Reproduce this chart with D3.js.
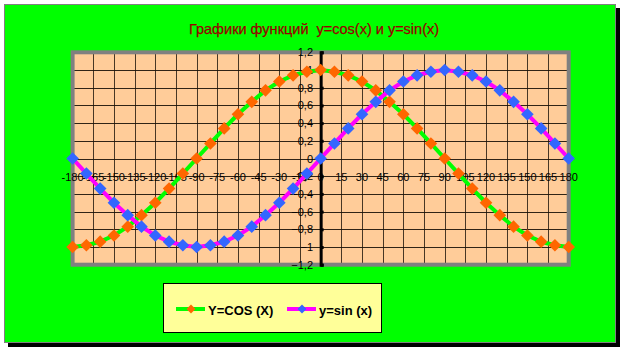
<!DOCTYPE html>
<html>
<head>
<meta charset="utf-8">
<script src="https://cdn.jsdelivr.net/npm/d3@7"></script>
<style>
  body { margin: 0; background: #fff; }
  svg { display: block; font-family: "Liberation Sans", Arial, sans-serif; }
</style>
</head>
<body>
<div id="chart"></div>
<script>
// data (10 degree steps)
var xDeg = [-180, -170, -160, -150, -140, -130, -120, -110, -100, -90, -80, -70, -60, -50, -40, -30, -20, -10,
            0, 10, 20, 30, 40, 50, 60, 70, 80, 90, 100, 110, 120, 130, 140, 150, 160, 170, 180];
var cosVals = [-1, -0.98, -0.94, -0.87, -0.77, -0.64, -0.5, -0.34, -0.17, 0, 0.17, 0.34, 0.5, 0.64, 0.77, 0.87, 0.94, 0.98,
               1, 0.98, 0.94, 0.87, 0.77, 0.64, 0.5, 0.34, 0.17, 0, -0.17, -0.34, -0.5, -0.64, -0.77, -0.87, -0.94, -0.98, -1];
var sinVals = [0, -0.17, -0.34, -0.5, -0.64, -0.77, -0.87, -0.94, -0.98, -1, -0.98, -0.94, -0.87, -0.77, -0.64, -0.5, -0.34, -0.17,
               0, 0.17, 0.34, 0.5, 0.64, 0.77, 0.87, 0.94, 0.98, 1, 0.98, 0.94, 0.87, 0.77, 0.64, 0.5, 0.34, 0.17, 0];
var xTicks = [-180, -165, -150, -135, -120, -105, -90, -75, -60, -45, -30, -15, 0, 15, 30, 45, 60, 75, 90, 105, 120, 135, 150, 165, 180];
var yTicks = [-1.2, -1, -0.8, -0.6, -0.4, -0.2, 0, 0.2, 0.4, 0.6, 0.8, 1, 1.2];
var seriesNames = ["Y=COS (X)", "y=sin (x)"];
var titleText = "Графики функций  y=cos(x) и y=sin(x)";

var W = 622, H = 352;
var plot = {left: 72.6, right: 568.7, top: 52.3, bottom: 264.7};

var svg = d3.select("#chart").append("svg")
    .attr("width", W)
    .attr("height", H);

// chart area with shadow
svg.append("rect")
    .attr("x", 8).attr("y", 8).attr("width", 612).attr("height", 339)
    .attr("fill", "#000");
svg.append("rect")
    .attr("x", 4.5).attr("y", 4.5).attr("width", 611).attr("height", 338)
    .attr("fill", "#00ff00")
    .attr("stroke", "#808080")
    .attr("stroke-width", 1);

// title
svg.append("text")
    .attr("x", 314).attr("y", 34)
    .attr("text-anchor", "middle")
    .attr("font-size", "14.5px")
    .attr("fill", "#990000")
    .attr("stroke", "#990000")
    .attr("stroke-width", 0.25)
    .style("white-space", "pre")
    .text(titleText);

var x = d3.scaleLinear().domain([-180, 180]).range([plot.left, plot.right]);
var y = d3.scaleLinear().domain([-1.2, 1.2]).range([plot.bottom, plot.top]);

// plot area
svg.append("rect")
    .attr("x", plot.left).attr("y", plot.top)
    .attr("width", plot.right - plot.left).attr("height", plot.bottom - plot.top)
    .attr("fill", "#ffcc99");

// gridlines
var grid = svg.append("g").attr("stroke", "#1a1208").attr("stroke-width", 1);
grid.selectAll("line.v")
    .data(xTicks)
    .enter().append("line")
    .attr("class", "v")
    .attr("x1", function(d) { return Math.round(x(d)) + 0.5; })
    .attr("x2", function(d) { return Math.round(x(d)) + 0.5; })
    .attr("y1", plot.top).attr("y2", plot.bottom)
    .attr("stroke-opacity", 0.8);
grid.selectAll("line.h")
    .data(yTicks)
    .enter().append("line")
    .attr("class", "h")
    .attr("x1", plot.left).attr("x2", plot.right)
    .attr("y1", function(d) { return Math.round(y(d)) + 0.5; })
    .attr("y2", function(d) { return Math.round(y(d)) + 0.5; })
    .attr("stroke-opacity", 0.9);

// plot border
svg.append("rect")
    .attr("x", plot.left).attr("y", plot.top)
    .attr("width", plot.right - plot.left).attr("height", plot.bottom - plot.top)
    .attr("fill", "none")
    .attr("stroke", "#808080")
    .attr("stroke-width", 4);

// y axis at x = 0
var yAxis = d3.axisRight(y)
    .tickValues(yTicks)
    .tickSize(3)
    .tickFormat("");
var yg = svg.append("g")
    .attr("transform", "translate(" + x(0) + ",0)")
    .call(yAxis);
yg.select(".domain").attr("stroke", "#000").attr("stroke-width", 3);
yg.selectAll(".tick line").attr("stroke", "#000").attr("stroke-width", 3);

var fmt = function(d) { return d3.format("~g")(d).replace(".", ","); };

svg.append("g").selectAll("text")
    .data(yTicks)
    .enter().append("text")
    .attr("x", 313)
    .attr("y", function(d) { return y(d) + 4; })
    .attr("text-anchor", "end")
    .attr("font-size", "11px")
    .attr("fill", "#000")
    .text(fmt);

// x tick labels
svg.append("g").selectAll("text")
    .data(xTicks)
    .enter().append("text")
    .attr("x", function(d) { return x(d); })
    .attr("y", 181)
    .attr("text-anchor", "middle")
    .attr("font-size", "11px")
    .attr("fill", "#000")
    .text(function(d) { return d; });

var diamond = d3.symbol().type(d3.symbolSquare).size(80);

function drawSeries(vals, lineColor, markColor) {
    var pts = xDeg.map(function(d, i) { return [d, vals[i]]; });
    var line = d3.line()
        .x(function(d) { return x(d[0]); })
        .y(function(d) { return y(d[1]); });
    svg.append("path")
        .datum(pts)
        .attr("d", line)
        .attr("fill", "none")
        .attr("stroke", lineColor)
        .attr("stroke-width", 4)
        .attr("stroke-linejoin", "round");
    svg.append("g").selectAll("path")
        .data(pts)
        .enter().append("path")
        .attr("d", diamond)
        .attr("transform", function(d) { return "translate(" + x(d[0]) + "," + y(d[1]) + ") rotate(45)"; })
        .attr("fill", markColor);
}

drawSeries(cosVals, "#00ff00", "#ff6600");
drawSeries(sinVals, "#ff00ff", "#3366ff");

// legend
var lg = svg.append("g");
lg.append("rect")
    .attr("x", 163.5).attr("y", 283.5).attr("width", 218).attr("height", 49)
    .attr("fill", "#ffff99")
    .attr("stroke", "#000")
    .attr("stroke-width", 1);

var legendItems = [
    {name: seriesNames[0], lx: 176, line: "#00ff00", mark: "#ff6600"},
    {name: seriesNames[1], lx: 287, line: "#ff00ff", mark: "#3366ff"}
];
var li = lg.selectAll("g.item")
    .data(legendItems)
    .enter().append("g")
    .attr("class", "item");
li.append("line")
    .attr("x1", function(d) { return d.lx; })
    .attr("x2", function(d) { return d.lx + 29; })
    .attr("y1", 309).attr("y2", 309)
    .attr("stroke", function(d) { return d.line; })
    .attr("stroke-width", 4);
li.append("path")
    .attr("d", d3.symbol().type(d3.symbolSquare).size(40))
    .attr("transform", function(d) { return "translate(" + (d.lx + 15) + ",309) rotate(45)"; })
    .attr("fill", function(d) { return d.mark; });
li.append("text")
    .attr("x", function(d) { return d.lx + 32; })
    .attr("y", 315)
    .attr("font-size", "13px")
    .attr("font-weight", "bold")
    .attr("fill", "#000")
    .text(function(d) { return d.name; });
</script>
</body>
</html>
